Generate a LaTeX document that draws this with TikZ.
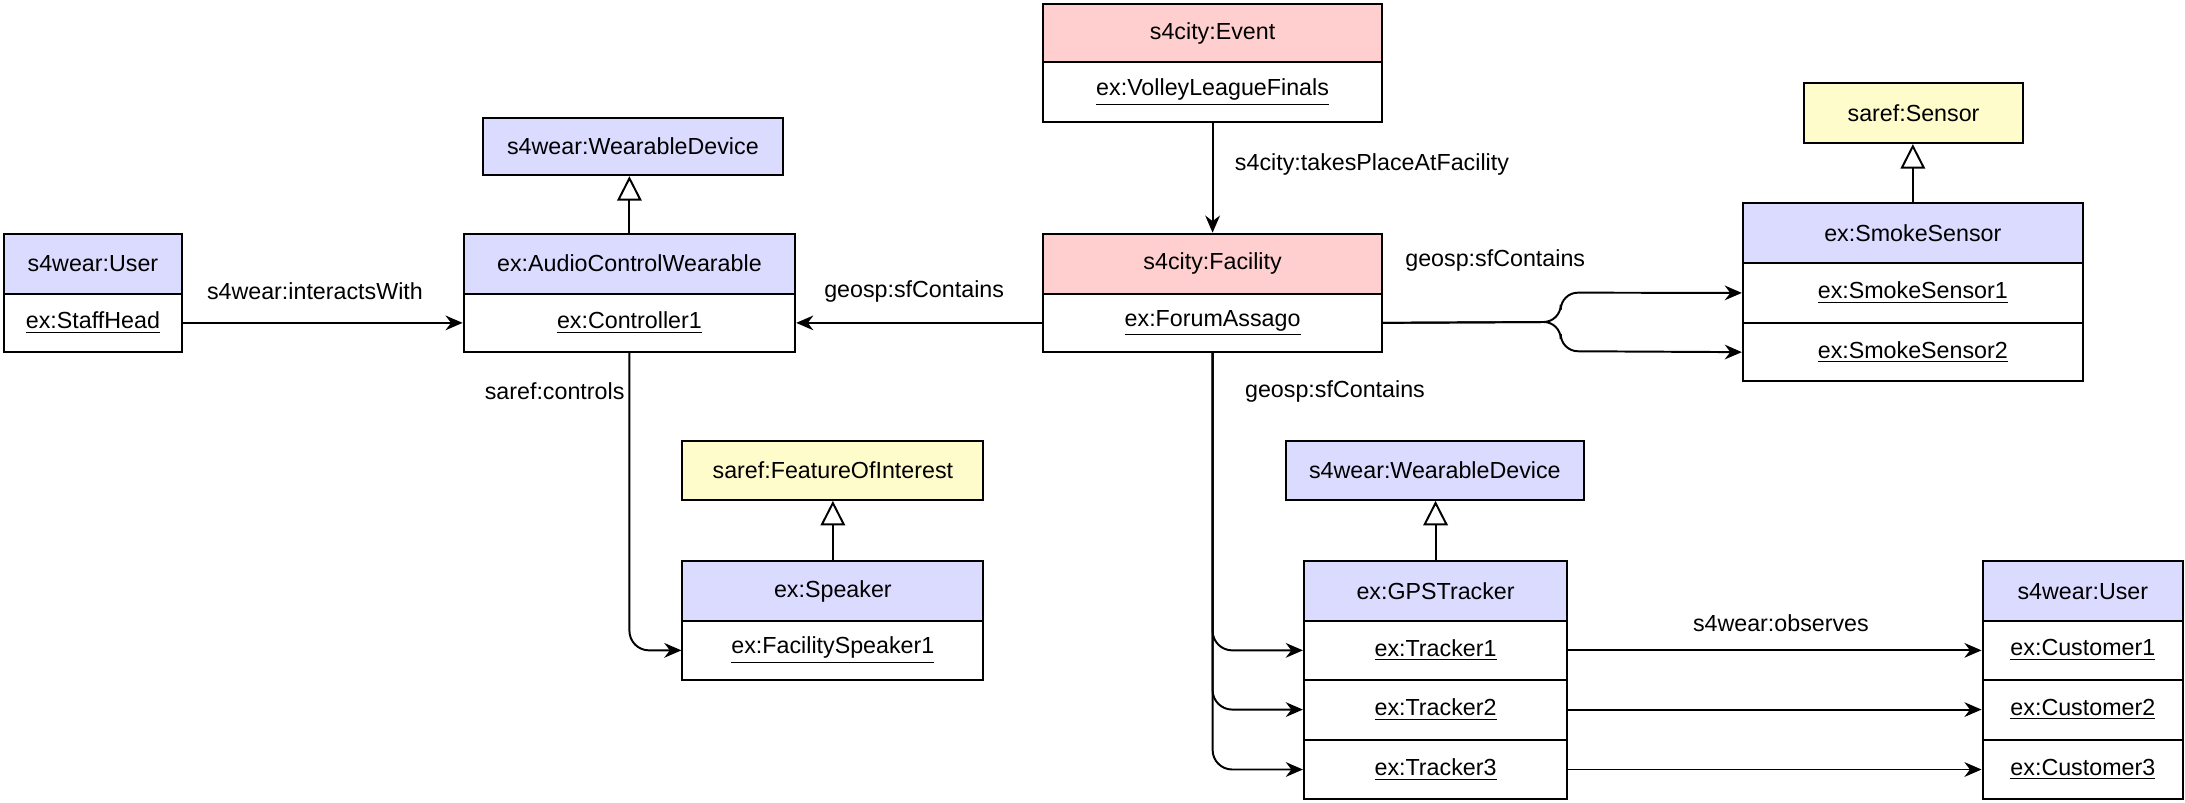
\documentclass[tikz,border=0pt]{standalone}
\usepackage{fontspec}
\setmainfont{Liberation Sans}
\usetikzlibrary{arrows.meta}
\tikzset{basic/.style={draw,thick,inner sep=0pt,font=\fontsize{9.5}{11}\selectfont,anchor=north west}}
\tikzset{blue/.style={basic,fill=blue!14!white}}
\tikzset{pink/.style={basic,fill=red!19!white}}
\tikzset{yellow/.style={basic,fill=yellow!20!white}}
\tikzset{row/.style={basic,fill=white}}
\tikzset{lbl/.style={font=\fontsize{9.5}{11}\selectfont}}
\tikzset{rel/.style={thick,-{Stealth[length=7pt,width=6pt]},rounded corners=8pt}}
\tikzset{isa/.style={thick,-{Triangle[open,length=10pt,width=10pt]}}}
\newcommand{\cell}[6]{\node[#1,minimum width=#4*0.02cm,minimum height=#5*0.02cm] (#6) at (#2,#3) {#6text};}
\begin{document}
\begin{tikzpicture}[x=0.02cm,y=-0.02cm]
\useasboundingbox (0,0) rectangle (1568,576);
% classes and instances
\node[pink,minimum width=4.86cm,minimum height=0.86cm] (event) at (748,2) {s4city:Event};
\node[row,minimum width=4.86cm,minimum height=0.86cm] (volley) at (748,44) {\underline{ex:VolleyLeagueFinals}};
\node[blue,minimum width=4.3cm,minimum height=0.82cm] (wd1) at (346,84) {s4wear:WearableDevice};
\node[blue,minimum width=2.56cm,minimum height=0.86cm] (user1) at (2,167) {s4wear:User};
\node[row,minimum width=2.56cm,minimum height=0.84cm] (staff) at (2,210) {\underline{ex:StaffHead}};
\node[blue,minimum width=4.76cm,minimum height=0.86cm] (acw) at (332,167) {ex:AudioControlWearable};
\node[row,minimum width=4.76cm,minimum height=0.84cm] (ctrl) at (332,210) {\underline{ex:Controller1}};
\node[pink,minimum width=4.86cm,minimum height=0.86cm] (fac) at (748,167) {s4city:Facility};
\node[row,minimum width=4.86cm,minimum height=0.84cm] (forum) at (748,210) {\underline{ex:ForumAssago}};
\node[yellow,minimum width=3.14cm,minimum height=0.86cm] (sensor) at (1294,59) {saref:Sensor};
\node[blue,minimum width=4.88cm,minimum height=0.86cm] (smoke) at (1250,145) {ex:SmokeSensor};
\node[row,minimum width=4.88cm,minimum height=0.86cm] (ss1) at (1250,188) {\underline{ex:SmokeSensor1}};
\node[row,minimum width=4.88cm,minimum height=0.84cm] (ss2) at (1250,231) {\underline{ex:SmokeSensor2}};
\node[yellow,minimum width=4.32cm,minimum height=0.84cm] (foi) at (489,316) {saref:FeatureOfInterest};
\node[blue,minimum width=4.32cm,minimum height=0.86cm] (spk) at (489,402) {ex:Speaker};
\node[row,minimum width=4.32cm,minimum height=0.84cm] (fspk) at (489,445) {\underline{ex:FacilitySpeaker1}};
\node[blue,minimum width=4.28cm,minimum height=0.84cm] (wd2) at (922,316) {s4wear:WearableDevice};
\node[blue,minimum width=3.78cm,minimum height=0.86cm] (gps) at (935,402) {ex:GPSTracker};
\node[row,minimum width=3.78cm,minimum height=0.84cm] (tr1) at (935,445) {\underline{ex:Tracker1}};
\node[row,minimum width=3.78cm,minimum height=0.86cm] (tr2) at (935,487) {\underline{ex:Tracker2}};
\node[row,minimum width=3.78cm,minimum height=0.86cm] (tr3) at (935,530) {\underline{ex:Tracker3}};
\node[blue,minimum width=2.88cm,minimum height=0.86cm] (user2) at (1422,402) {s4wear:User};
\node[row,minimum width=2.88cm,minimum height=0.84cm] (cu1) at (1422,445) {\underline{ex:Customer1}};
\node[row,minimum width=2.88cm,minimum height=0.86cm] (cu2) at (1422,487) {\underline{ex:Customer2}};
\node[row,minimum width=2.88cm,minimum height=0.86cm] (cu3) at (1422,530) {\underline{ex:Customer3}};
% subclass links
\draw[isa] (acw.north) -- (acw.north |- wd1.south);
\draw[isa] (smoke.north) -- (smoke.north |- sensor.south);
\draw[isa] (spk.north) -- (spk.north |- foi.south);
\draw[isa] (gps.north) -- (gps.north |- wd2.south);
% relations
\draw[rel] (staff.east) -- (ctrl.west);
\node[lbl] (l1) at (226,209) {s4wear:interactsWith};
\draw[rel] (forum.west) -- (ctrl.east);
\node[lbl] (l2) at (656,209) {geosp:sfContains};
\draw[rel] (volley.south) -- (fac.north);
\node[lbl,anchor=west] (l3) at (880,118) {s4city:takesPlaceAtFacility};
\draw[rel,rounded corners=7pt] (forum.east) -- (1120,231) -- (1120,210) -- (ss1.west);
\draw[rel,rounded corners=7pt] (forum.east) -- (1120,231) -- (1120,252) -- (ss2.west);
\node[lbl] (l4) at (1073,187) {geosp:sfContains};
\draw[rel] (ctrl.south) -- (ctrl.south |- fspk.west) -- (fspk.west);
\node[lbl] (l5) at (398,281) {saref:controls};
\draw[rel] (forum.south) -- (forum.south |- tr1.west) -- (tr1.west);
\draw[rel] (forum.south) -- (forum.south |- tr2.west) -- (tr2.west);
\draw[rel] (forum.south) -- (forum.south |- tr3.west) -- (tr3.west);
\node[lbl] (l6) at (958,281) {geosp:sfContains};
\draw[rel] (tr1.east) -- (cu1.west);
\draw[rel] (tr2.east) -- (cu2.west);
\draw[rel] (tr3.east) -- (cu3.west);
\node[lbl] (l7) at (1278,447) {s4wear:observes};
\end{tikzpicture}
\end{document}
